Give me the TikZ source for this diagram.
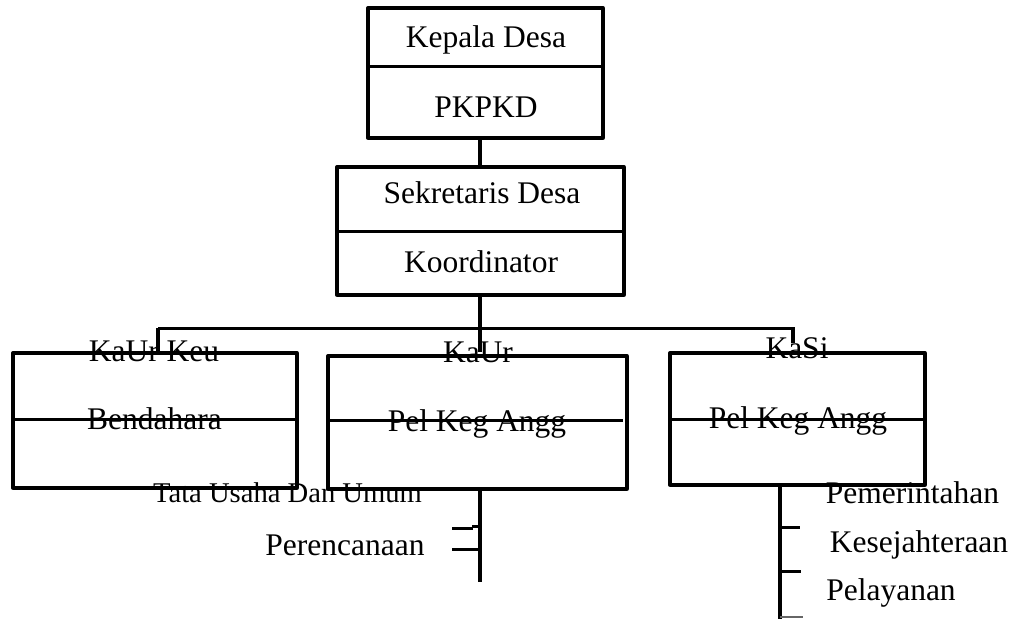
\documentclass[tikz,border=0pt]{standalone}
\usepackage{fontspec}
\setmainfont{Liberation Serif}
\begin{document}
\begin{tikzpicture}[x=1pt,y=-1pt,
  box/.style={draw,line width=3.3pt,inner sep=0pt,line join=round},
  lnk/.style={line width=3.3pt},
  thin/.style={line width=3pt},
  lbl/.style={anchor=base,inner sep=0pt,font=\fontsize{31.5}{36}\selectfont},
  slbl/.style={anchor=base,inner sep=0pt,font=\fontsize{28.6}{34}\selectfont}]
\useasboundingbox[fill=white] (0,0) rectangle (1018,619);
% boxes
\node[box,minimum width=235pt,minimum height=130pt] (kd) at (485.5,73) {};
\node[box,minimum width=287pt,minimum height=128pt] (sd) at (480.5,231) {};
\node[box,minimum width=284pt,minimum height=135pt] (b1) at (155,420.5) {};
\node[box,minimum width=299pt,minimum height=133pt] (b2) at (477.5,422.5) {};
\node[box,minimum width=255pt,minimum height=132pt] (b3) at (797.5,419) {};
% dividers
\draw[thin] (kd.west |- 0,66) -- (kd.east |- 0,66);
\draw[thin] (sd.west |- 0,231) -- (sd.east |- 0,231);
\draw[thin] (11,419) -- (b1.east |- 0,419);
\draw[thin] (326,420) -- (623,420);
\draw[thin] (b3.west |- 0,419) -- (923,419);
% texts
\node[lbl] (t1) at (486,47) {Kepala Desa};
\node[lbl] (t2) at (486,117) {PKPKD};
\node[lbl] (t3) at (482,203) {Sekretaris Desa};
\node[lbl] (t4) at (481,272) {Koordinator};
\node[lbl] (t5) at (154,361) {KaUr Keu};
\node[lbl] (t6) at (154.5,429) {Bendahara};
\node[lbl] (t7) at (478,362) {KaUr};
\node[lbl] (t8) at (477,431) {Pel Keg Angg};
\node[lbl] (t9) at (797,358) {KaSi};
\node[lbl] (t10) at (798,428) {Pel Keg Angg};
\node[slbl] (t11) at (287.5,502) {Tata Usaha Dan Umum};
\node[lbl] (t12) at (345,555) {Perencanaan};
\node[lbl] (t13) at (912.5,503) {Pemerintahan};
\node[lbl] (t14) at (919,552) {Kesejahteraan};
\node[lbl] (t15) at (891,600) {Pelayanan};
% connector coordinates
\coordinate (bus) at (480,328);
\coordinate (busL) at (158,328);
\coordinate (busR) at (795,328);
\coordinate (k3) at (793,328);
\coordinate (e2) at (480,582);
\coordinate (e3) at (780,619);
% connectors
\draw[lnk] (bus |- kd.south) -- (bus |- sd.north);
\draw[lnk] (bus |- sd.south) -- (bus);
\draw[thin] (busL) -- (busR);
\draw[lnk] (busL) -- (busL |- b1.north);
\draw[lnk] (bus) -- (480,352);
\draw[lnk] (k3) -- (793,343);
% sub lines box 2
\draw[lnk] (bus |- b2.south) -- (e2);
\draw[thin] (452,528) -- (473,528);
\draw[thin] (472,526.5) -- (480,526.5);
\draw[thin] (452,549) -- (480,549);
% sub lines box 3
\draw[lnk] (e3 |- b3.south) -- (e3);
\draw[thin] (780,527) -- (800,527);
\draw[thin] (780,571) -- (801,571);
\draw[line width=1.5pt,black!60] (780,617) -- (803,617);
\end{tikzpicture}
\end{document}
